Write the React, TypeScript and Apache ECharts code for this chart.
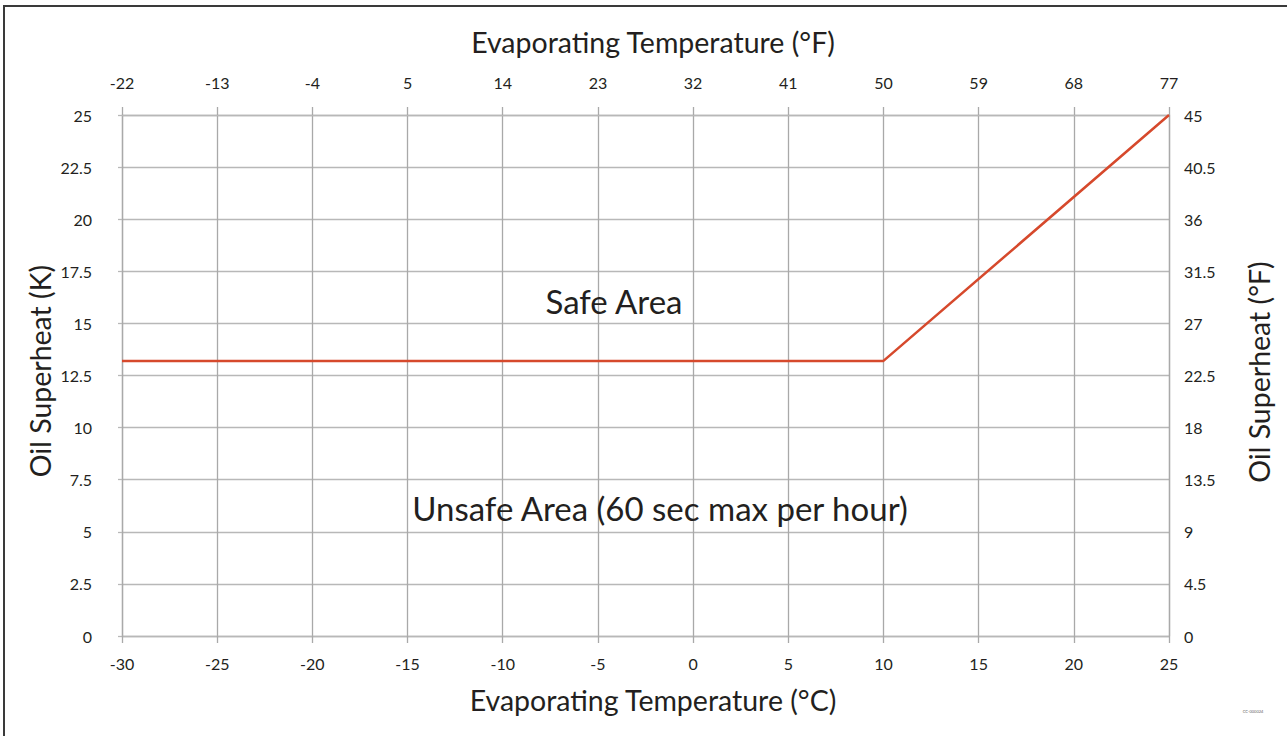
import React, { useEffect, useRef } from "react";
import * as echarts from "echarts";

const tempC = [-30, 10, 25];
const superheatK = [13.2, 13.2, 25];
const xRange = [-30, 25];
const yRange = [0, 25];
const xInterval = 5;
const yInterval = 2.5;
const topTitle = "Evaporating Temperature (°F)";
const bottomTitle = "Evaporating Temperature (°C)";
const leftTitle = "Oil Superheat (K)";
const rightTitle = "Oil Superheat (°F)";
const safeLabel = "Safe Area";
const unsafeLabel = "Unsafe Area (60 sec max per hour)";
const docCode = "CC-000024";

const FONT = "Lato, 'Noto Sans', sans-serif";
const TXT = "#231f20";
const GRID_H = "#b8b8b8";
const GRID_V = "#a9a9a9";

export default function App() {
  const ref = useRef<HTMLDivElement>(null);
  useEffect(() => {
    if (!ref.current) return;
    const chart = echarts.init(ref.current, null, { renderer: "svg" });
    const hStyle = { color: GRID_H, width: 1.3 };
    const vStyle = { color: GRID_V, width: 1.3 };
    const labelStyle = { color: TXT, fontSize: 16, fontFamily: FONT };
    const titleFont = `28.5px ${FONT}`;
    const title = (text: string, x: number, y: number, rotation = 0) => ({
      type: "text", x, y, rotation,
      style: { text, fill: TXT, font: titleFont, textAlign: "center", textVerticalAlign: "middle" },
      z: 100,
    });
    chart.setOption({
      animation: false,
      backgroundColor: "#fff",
      grid: { left: 122, right: 118, top: 115, bottom: 100, containLabel: false },
      xAxis: [
        {
          type: "value", position: "bottom", min: xRange[0], max: xRange[1], interval: xInterval,
          axisLine: { show: true, onZero: false, lineStyle: hStyle },
          axisTick: { show: true, length: 7, lineStyle: vStyle },
          splitLine: { show: true, lineStyle: vStyle },
          axisLabel: { ...labelStyle, margin: 19 },
        },
        {
          type: "value", position: "top", min: xRange[0], max: xRange[1], interval: xInterval,
          axisLine: { show: true, onZero: false, lineStyle: hStyle },
          axisTick: { show: true, length: 8, lineStyle: vStyle },
          splitLine: { show: false },
          axisLabel: { ...labelStyle, margin: 25, formatter: (v: number) => String(Math.round(v * 9 / 5 + 32)) },
        },
      ],
      yAxis: [
        {
          type: "value", position: "left", min: yRange[0], max: yRange[1], interval: yInterval,
          axisLine: { show: true, onZero: false, lineStyle: vStyle },
          axisTick: { show: true, length: 4, lineStyle: hStyle },
          splitLine: { show: true, lineStyle: hStyle },
          axisLabel: { ...labelStyle, margin: 30 },
        },
        {
          type: "value", position: "right", min: yRange[0], max: yRange[1], interval: yInterval,
          axisLine: { show: true, onZero: false, lineStyle: vStyle },
          axisTick: { show: false },
          splitLine: { show: false },
          axisLabel: { ...labelStyle, margin: 15, formatter: (v: number) => String(Math.round(v * 18) / 10) },
        },
      ],
      series: [
        {
          type: "line",
          data: tempC.map((t, i) => [t, superheatK[i]]),
          symbol: "none",
          lineStyle: { color: "#d6492c", width: 2.5 },
          xAxisIndex: 0, yAxisIndex: 0,
          z: 10,
        },
      ],
      graphic: [
        { type: "rect", shape: { x: 4, y: 6, width: 1300, height: 800 }, style: { fill: "none", stroke: "#3a3a3a", lineWidth: 2 }, z: 100 },
        title(topTitle, 653, 42),
        title(bottomTitle, 653, 700),
        title(leftTitle, 40, 371, Math.PI / 2),
        title(rightTitle, 1259, 372, Math.PI / 2),
        { type: "text", x: 614, y: 301, style: { text: safeLabel, fill: TXT, font: `33px ${FONT}`, textAlign: "center", textVerticalAlign: "middle" }, z: 100 },
        { type: "text", x: 660, y: 508, style: { text: unsafeLabel, fill: TXT, font: `33px ${FONT}`, textAlign: "center", textVerticalAlign: "middle" }, z: 100 },
        { type: "text", x: 1253, y: 711, style: { text: docCode, fill: "#666", font: `4px ${FONT}`, textAlign: "center", textVerticalAlign: "middle" }, z: 100 },
      ],
    });
    return () => chart.dispose();
  }, []);
  return <div ref={ref} style={{ position: "fixed", left: 0, top: 0, width: 1287, height: 736 }} />;
}
